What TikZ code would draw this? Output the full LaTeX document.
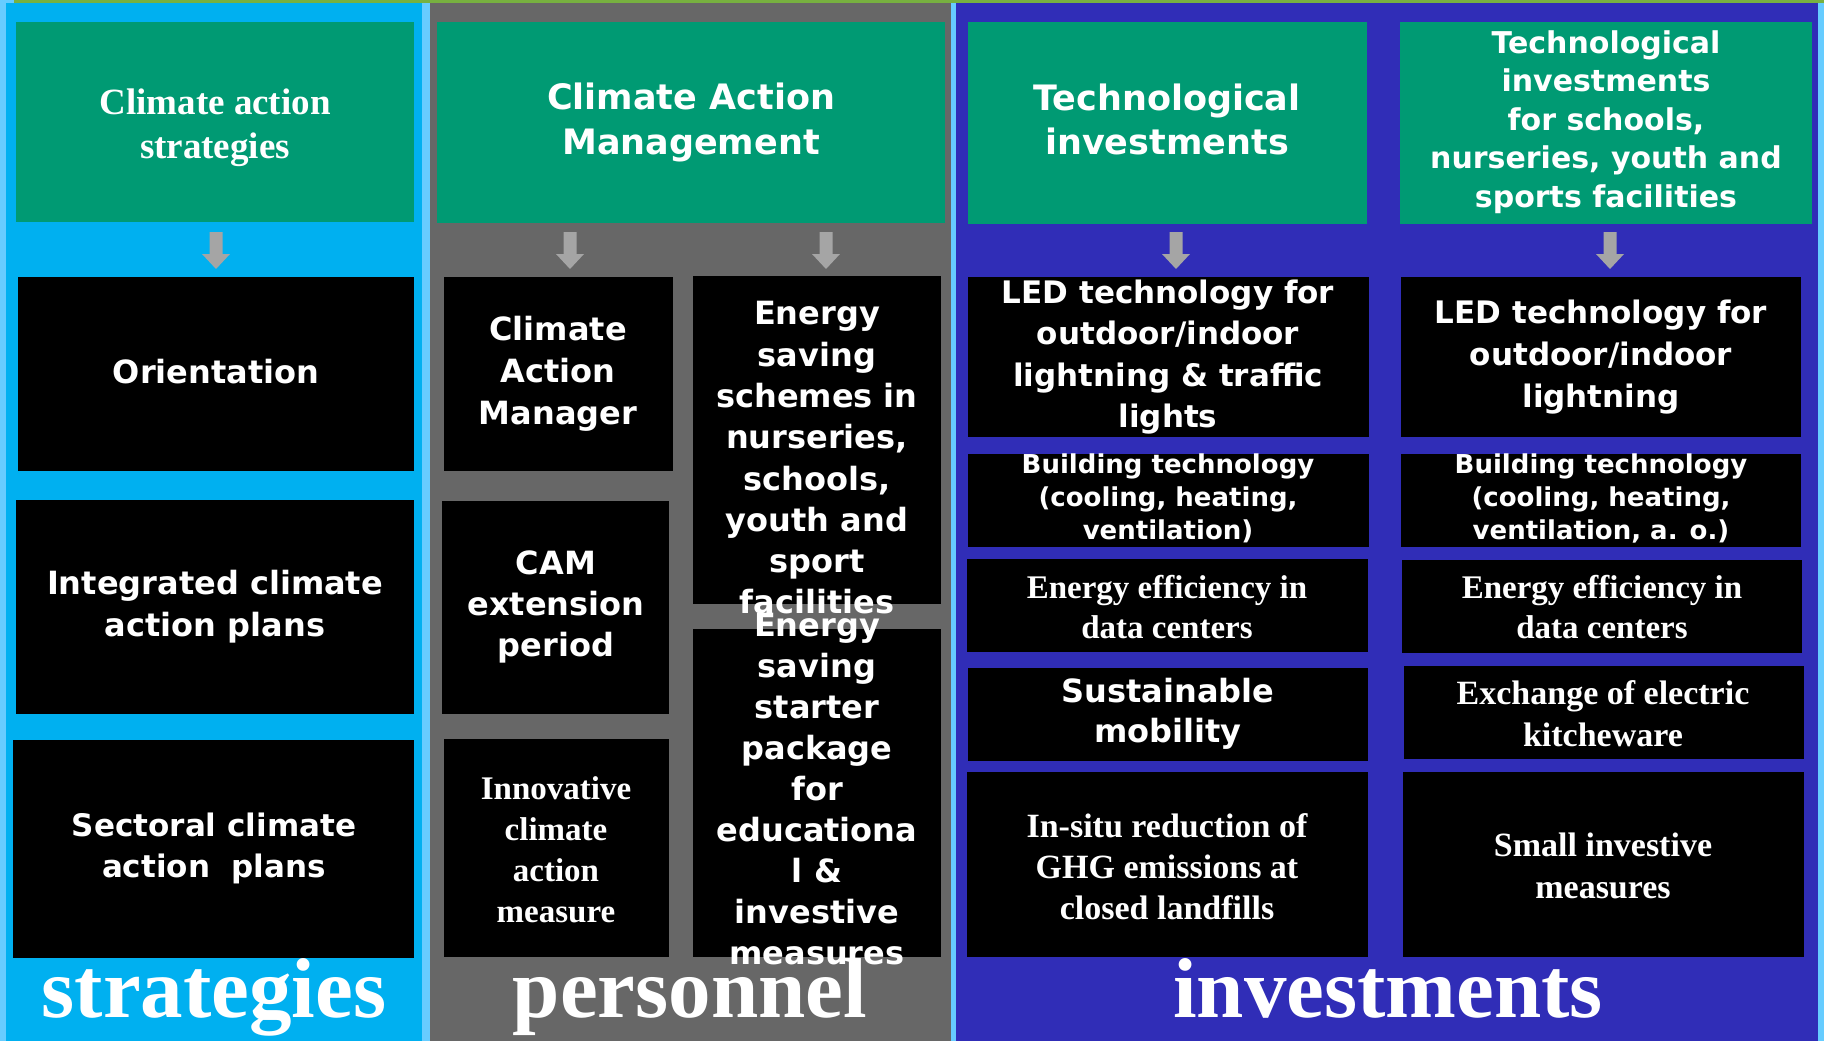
\documentclass[tikz,border=0pt]{standalone}
\usepackage{fontspec}
\setmainfont{Liberation Serif}
\newfontfamily\gothic{DejaVu Sans}
\usetikzlibrary{fit}
\definecolor{rimblue}{HTML}{66CCFF}
\definecolor{skycol}{HTML}{00B0F0}
\definecolor{graycol}{HTML}{676767}
\definecolor{navycol}{HTML}{302DB7}
\definecolor{headgreen}{HTML}{009A73}
\definecolor{topgreen}{HTML}{77B140}
\definecolor{arrowgray}{HTML}{A5A5A5}
\begin{document}
\begin{tikzpicture}[x=1pt,y=-1pt,line join=round,
 head/.style={fill=headgreen,inner sep=0pt},
 cell/.style={fill=black,inner sep=0pt},
 gt/.style 2 args={text=white,align=center,inner sep=0pt,font=\gothic\bfseries\fontsize{#1}{#2}\selectfont},
 rt/.style 2 args={text=white,align=center,inner sep=0pt,font=\bfseries\fontsize{#1}{#2}\selectfont},
 big/.style={text=white,anchor=base,inner sep=0pt,font=\bfseries\fontsize{85}{90}\selectfont}]
 \useasboundingbox (0,0) rectangle (1824,1041);
 \fill[rimblue] (0,0) rectangle (1824,1041);
 \fill[topgreen] (14,0) rectangle (1824,3);
 \fill[skycol] (6,3) rectangle (422,1041);
 \fill[graycol] (430,3) rectangle (951,1041);
 \fill[navycol] (956,3) rectangle (1818,1041);
 % column titles
 \node[big] (lS) at (214,1017) {strategies};
 \node[big] (lP) at (690,1017) {personnel};
 \node[big] (lI) at (1388,1017) {investments};
 % green heads
 \node[head,fit={(16,22) (414,222)}] (hS) {};
 \node[head,fit={(437,22) (945,223)}] (hP) {};
 \node[head,fit={(968,22) (1367,224)}] (hT) {};
 \node[head,fit={(1400,22) (1812,224)}] (hK) {};
 \node[rt={37}{44}] (hSt) at (215,128) {Climate action\\strategies};
 \node[gt={35}{45}] (hPt) at (691,122) {Climate Action\\Management};
 \node[gt={35}{44}] (hTt) at (1167,119) {Technological\\investments};
 \node[gt={30}{38.5}] (hKt) at (1606,122) {Technological\\investments\\for schools,\\nurseries, youth and\\sports facilities};
 \foreach \ax in {216,570,826,1176,1610}
  \fill[arrowgray] (\ax-6.5,232) -- (\ax+6.5,232) -- (\ax+6.5,254) -- (\ax+14,254)
   -- (\ax,269) -- (\ax-14,254) -- (\ax-6.5,254) -- cycle;
 % strategies
 \node[cell,fit={(18,277) (414,471)}] (ori) {};
 \node[cell,fit={(16,500) (414,714)}] (icap) {};
 \node[cell,fit={(13,740) (414,958)}] (scap) {};
 \node[gt={32}{42}] (oriT) at (216,372) {Orientation};
 \node[gt={32}{42}] (icapT) at (215,607) {Integrated climate\\action plans};
 \node[gt={31}{41}] (scapT) at (214,848) {Sectoral climate\\action\ \ plans};
 % personnel
 \node[cell,fit={(444,277) (673,471)}] (cam) {};
 \node[cell,fit={(442,501) (669,714)}] (camx) {};
 \node[cell,fit={(444,739) (669,957)}] (inno) {};
 \node[cell,fit={(693,276) (941,604)}] (esch) {};
 \node[cell,fit={(693,629) (941,957)}] (estart) {};
 \node[gt={32}{42}] (camT) at (558,374) {Climate\\Action\\Manager};
 \node[gt={32}{41}] (camxT) at (556,607) {CAM\\extension\\period};
 \node[rt={33}{41}] (innoT) at (556,850) {Innovative\\climate\\action\\measure};
 \node[gt={32}{41.3}] (eschT) at (817,458) {Energy\\saving\\schemes in\\nurseries,\\schools,\\youth and\\sport\\facilities};
 \node[gt={32}{41.1}] (estartT) at (817,789) {Energy\\saving\\starter\\package\\for\\educationa\\l \&\\investive\\measures};
 % investments
 \node[cell,fit={(968,277) (1369,437)}] (led1) {};
 \node[cell,fit={(968,454) (1369,547)}] (bld1) {};
 \node[cell,fit={(967,559) (1368,652)}] (eff1) {};
 \node[cell,fit={(968,668) (1368,761)}] (mob) {};
 \node[cell,fit={(967,772) (1368,957)}] (insitu) {};
 \node[cell,fit={(1401,277) (1801,437)}] (led2) {};
 \node[cell,fit={(1401,454) (1801,547)}] (bld2) {};
 \node[cell,fit={(1402,560) (1802,653)}] (eff2) {};
 \node[cell,fit={(1404,666) (1804,759)}] (kit) {};
 \node[cell,fit={(1403,772) (1804,957)}] (small) {};
 \node[gt={31}{41.5}] (led1T) at (1168,357) {LED technology for\\outdoor/indoor\\lightning \& traffic\\lights};
 \node[gt={26}{33}] (bld1T) at (1168,498) {Building technology\\(cooling, heating,\\ventilation)};
 \node[rt={33}{40}] (eff1T) at (1167,607) {Energy efficiency in\\data centers};
 \node[gt={32}{40}] (mobT) at (1168,714) {Sustainable\\mobility};
 \node[rt={34}{41}] (insituT) at (1167,867) {In-situ reduction of\\GHG emissions at\\closed landfills};
 \node[gt={31}{42}] (led2T) at (1601,357) {LED technology for\\outdoor/indoor\\lightning};
 \node[gt={26}{33}] (bld2T) at (1601,498) {Building technology\\(cooling, heating,\\ventilation, a. o.)};
 \node[rt={33}{40}] (eff2T) at (1602,607) {Energy efficiency in\\data centers};
 \node[rt={34}{42}] (kitT) at (1603,714) {Exchange of electric\\kitcheware};
 \node[rt={34}{42}] (smallT) at (1603,866) {Small investive\\measures};
\end{tikzpicture}
\end{document}
